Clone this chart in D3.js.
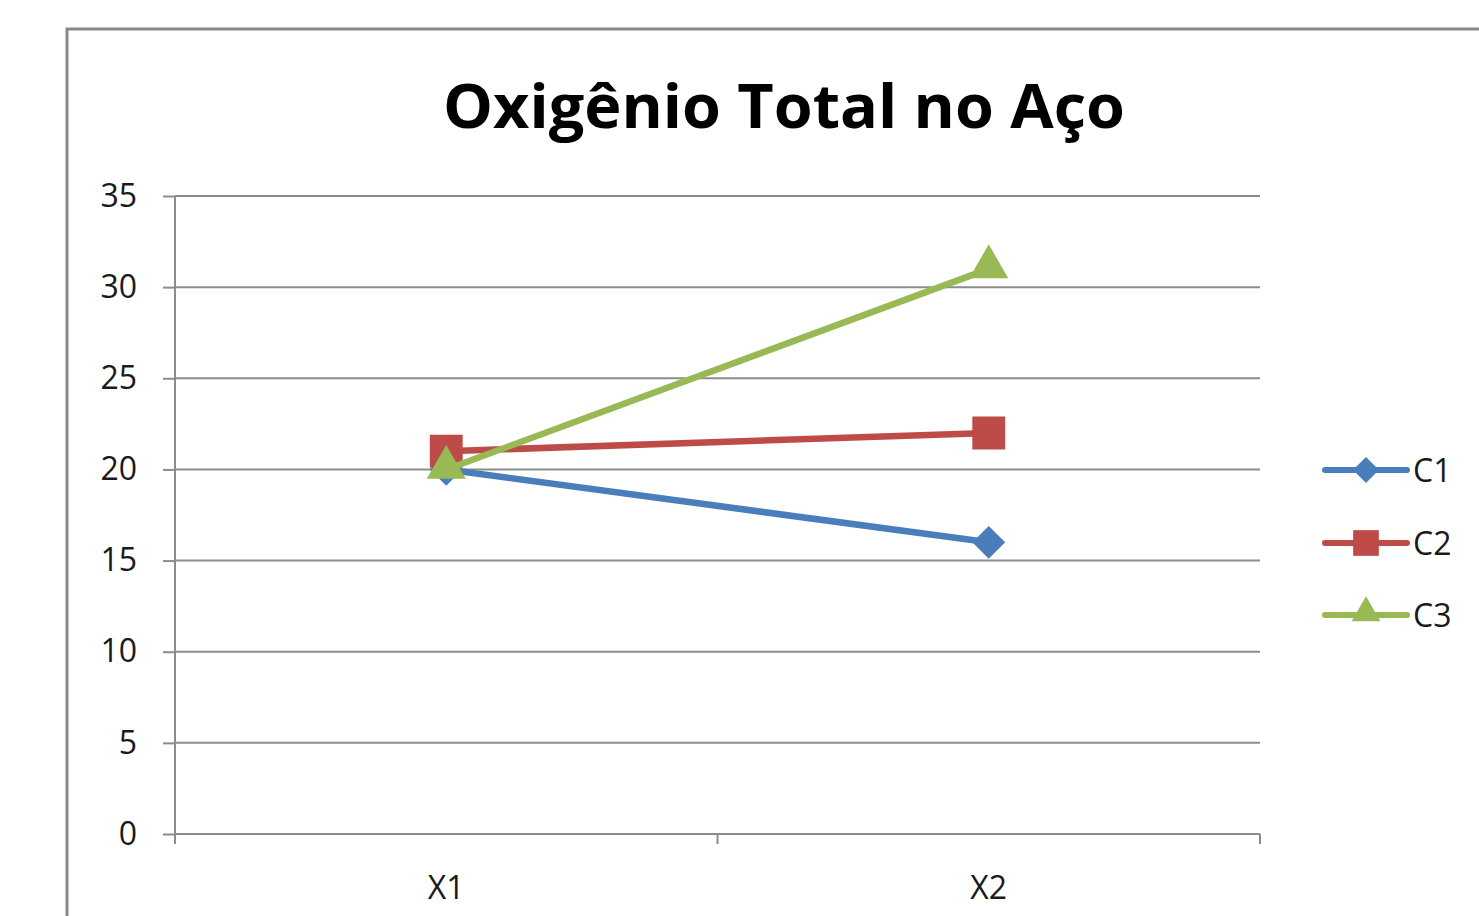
<!DOCTYPE html>
<html><head><meta charset="utf-8">
<script src="https://cdn.jsdelivr.net/npm/d3@7"></script>
<style>body{margin:0;background:#fff}svg{display:block}</style>
</head><body>
<svg id="c" width="1479" height="916"></svg>
<script>
const categories = ["X1", "X2"];
const seriesNames = ["C1", "C2", "C3"];
const c1 = [20, 16];
const c2 = [21, 22];
const c3 = [20, 31];
const yTicks = [0, 5, 10, 15, 20, 25, 30, 35];
const title = "Oxigênio Total no Aço";

const series = [
  {name: seriesNames[0], values: c1, color: "#4A7EBB", shape: d3.symbolSquare, rot: 45, size: 540, lsize: 340, dy: 0},
  {name: seriesNames[1], values: c2, color: "#BE4B48", shape: d3.symbolSquare, rot: 0, size: 1080, lsize: 660, dy: 0},
  {name: seriesNames[2], values: c3, color: "#98B954", shape: d3.symbolTriangle, rot: 0, size: 660, lsize: 360, dy: -2}
];

const svg = d3.select("#c");
const font = "'Open Sans', sans-serif";

// outer chart border
svg.append("rect").attr("x", 67).attr("y", 29).attr("width", 1500).attr("height", 1000)
  .attr("fill", "#fff").attr("stroke", "#898989").attr("stroke-width", 3);

const L = 175, R = 1260, T = 196, B = 834;
const x = d3.scaleBand().domain(categories).range([L, R]);
const y = d3.scaleLinear().domain([0, 35]).range([B, T]);

// gridlines
svg.append("g").selectAll("line").data(yTicks.filter(d => d > 0)).join("line")
  .attr("x1", L).attr("x2", R).attr("y1", d => y(d)).attr("y2", d => y(d))
  .attr("stroke", "#8c8c8c").attr("stroke-width", 2);

// y axis
const ya = svg.append("g").attr("transform", `translate(${L},0)`)
  .call(d3.axisLeft(y).tickValues(yTicks).tickSize(12).tickPadding(26));
ya.select(".domain").attr("stroke", "#8c8c8c").attr("stroke-width", 2).attr("d", `M0,${T}V${B}`);
ya.selectAll(".tick line").attr("stroke", "#8c8c8c").attr("stroke-width", 2);
ya.selectAll(".tick text").attr("font-family", font).attr("font-size", 32).attr("fill", "#1a1a1a");

// x axis
const xa = svg.append("g").attr("transform", `translate(0,${B})`)
  .call(d3.axisBottom(x).tickSize(0).tickPadding(42));
xa.select(".domain").attr("stroke", "#8c8c8c").attr("stroke-width", 2).attr("d", `M${L},0H${R}`);
xa.selectAll(".tick text").attr("font-family", font).attr("font-size", 32).attr("fill", "#1a1a1a");
const bounds = [L, L + x.step(), R];
xa.append("g").selectAll("line").data(bounds).join("line")
  .attr("x1", d => d).attr("x2", d => d).attr("y1", 0).attr("y2", 10)
  .attr("stroke", "#8c8c8c").attr("stroke-width", 2);

const cx = c => x(c) + x.bandwidth() / 2;
const line = d3.line().x((d, i) => cx(categories[i])).y(d => y(d));

series.forEach(s => {
  const g = svg.append("g");
  g.append("path").datum(s.values).attr("d", line).attr("fill", "none")
    .attr("stroke", s.color).attr("stroke-width", 6.5).attr("stroke-linejoin", "round");
  g.selectAll("path.m").data(s.values).join("path").attr("class", "m")
    .attr("d", d3.symbol(s.shape, s.size))
    .attr("transform", (d, i) => `translate(${cx(categories[i])},${y(d) + s.dy}) rotate(${s.rot})`)
    .attr("fill", s.color);
});

// legend
const ly = [470, 543, 615];
const lg = svg.append("g");
series.forEach((s, i) => {
  lg.append("line").attr("x1", 1325).attr("x2", 1407).attr("y1", ly[i]).attr("y2", ly[i])
    .attr("stroke", s.color).attr("stroke-width", 6).attr("stroke-linecap", "round");
  lg.append("path").attr("d", d3.symbol(s.shape, s.lsize))
    .attr("transform", `translate(1366,${ly[i] + s.dy}) rotate(${s.rot})`).attr("fill", s.color);
  lg.append("text").attr("x", 1413).attr("y", ly[i]).attr("dy", "0.36em")
    .attr("font-family", font).attr("font-size", 32).attr("fill", "#1a1a1a").text(s.name);
});

// title
svg.append("text").attr("x", 784).attr("y", 128).attr("text-anchor", "middle")
  .attr("font-family", font).attr("font-weight", "bold").attr("font-size", 60)
  .attr("textLength", 682).attr("lengthAdjust", "spacingAndGlyphs")
  .attr("fill", "#000").text(title);
</script>
</body></html>
